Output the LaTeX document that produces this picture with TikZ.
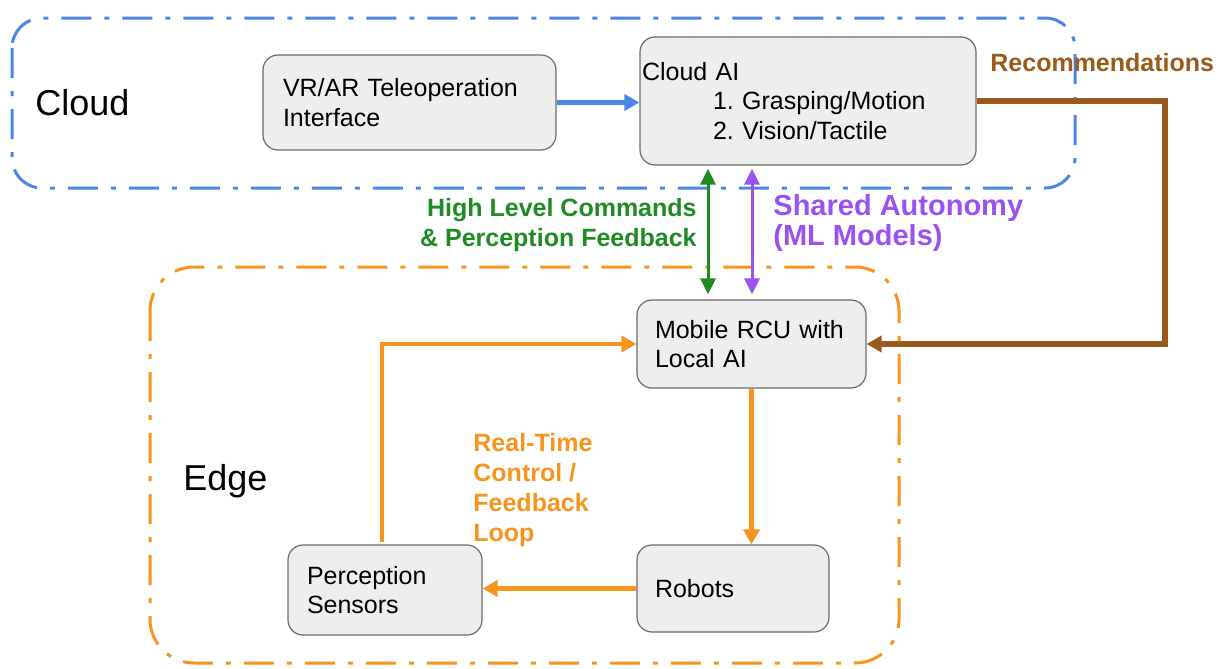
\documentclass[tikz,border=0pt]{standalone}
\usepackage{fontspec}
\setmainfont{Liberation Sans}
\usetikzlibrary{arrows.meta}
\frenchspacing
\definecolor{cloudblue}{HTML}{4A86E8}
\definecolor{edgeorange}{HTML}{F7941D}
\definecolor{cmdgreen}{HTML}{1E8C23}
\definecolor{autopurple}{HTML}{9B51F2}
\definecolor{recbrown}{HTML}{9A5A1C}
\definecolor{boxfill}{HTML}{EEEEEE}
\definecolor{boxline}{HTML}{6B6B6B}
\tikzset{
  region/.style={line width=1.5pt, rounded corners=#1,
    dash pattern=on 15pt off 6.5pt on 2.5pt off 6.5pt},
  blockbox/.style={draw=boxline, fill=boxfill, line width=0.6pt,
    rounded corners=7.5pt, align=left, inner ysep=0pt,
    font=\fontsize{12.5}{14.6}\selectfont},
  zonelabel/.style={anchor=west, inner sep=0pt, font=\fontsize{18}{20}\selectfont},
  flowlabel/.style={inner sep=0pt, font=\bfseries\fontsize{12.5}{15}\selectfont},
  thickflow/.style={line width=2.2pt, -{Triangle[length=7.5pt,width=8pt]}},
  linkflow/.style={line width=1.5pt, {Triangle[length=8pt,width=7.5pt]}-{Triangle[length=8pt,width=7.5pt]}}
}
\begin{document}
\begin{tikzpicture}[x=0.5pt, y=-0.5pt]
\useasboundingbox (0,0) rectangle (1226,669);

% dash-dot zones
\draw[region=15pt, cloudblue] (12,18) rectangle (1075,188);
\draw[region=22pt, edgeorange] (150,267) rectangle (899,663);

\node[zonelabel] (cloudlbl) at (35,103) {Cloud};
\node[zonelabel] (edgelbl) at (183,481) {Edge};

% blocks
\node[blockbox, minimum width=146.5pt, minimum height=47.5pt,
      text width=126.5pt, inner xsep=10pt] (vr) at (409.5,102.5)
  {VR/AR Teleoperation\\Interface};
\node[blockbox, minimum width=168pt, minimum height=64pt,
      text width=166pt, inner xsep=1pt] (cloudai) at (808,101)
  {Cloud AI\\\hspace*{35.5pt}1. Grasping/Motion\\\hspace*{35.5pt}2. Vision/Tactile};
\node[blockbox, minimum width=114.5pt, minimum height=44pt,
      text width=96.5pt, inner xsep=9pt] (rcu) at (751.5,344)
  {Mobile RCU with\\Local AI};
\node[blockbox, minimum width=96pt, minimum height=43.5pt,
      text width=78pt, inner xsep=9pt] (robots) at (733,588.5)
  {Robots};
\node[blockbox, minimum width=97pt, minimum height=45pt,
      text width=78pt, inner xsep=9.5pt] (sensors) at (385,590)
  {Perception\\Sensors};

% cloud-side flows
\draw[thickflow, cloudblue] (vr.east) -- (vr.east -| cloudai.west);

\coordinate (recbend) at (1165,220);
\draw[thickflow, recbrown, line width=2.6pt] (cloudai.east) -| (recbend) |- (rcu.east);
\node[flowlabel, anchor=west, text=recbrown] (reclbl) at (990,63) {Recommendations};

% cloud <-> edge links
\coordinate (greenx) at (708,230);
\coordinate (purplex) at (752,230);
\draw[linkflow, cmdgreen] ([yshift=-1.5pt]greenx |- cloudai.south) -- ([yshift=2.5pt]greenx |- rcu.north);
\draw[linkflow, autopurple] ([yshift=-1.5pt]purplex |- cloudai.south) -- ([yshift=2.5pt]purplex |- rcu.north);
\node[flowlabel, anchor=east, align=right, text=cmdgreen] (cmdlbl) at (697,225)
  {High Level Commands\\\& Perception Feedback};
\node[flowlabel, anchor=west, align=left, text=autopurple,
      font=\bfseries\fontsize{14.5}{15}\selectfont] (autolbl) at (773,223)
  {Shared Autonomy\\(ML Models)};

% edge control loop
\draw[thickflow, edgeorange] (rcu.south) -- (rcu.south |- robots.north);
\draw[thickflow, edgeorange] (robots.west) -- (robots.west -| sensors.east);
\draw[thickflow, edgeorange] ([xshift=-1.5pt,yshift=1pt]sensors.north) |- (rcu.west);
\node[flowlabel, anchor=west, align=left, text=edgeorange] (looplbl) at (473,490)
  {Real-Time\\Control /\\Feedback\\Loop};
\end{tikzpicture}
\end{document}
